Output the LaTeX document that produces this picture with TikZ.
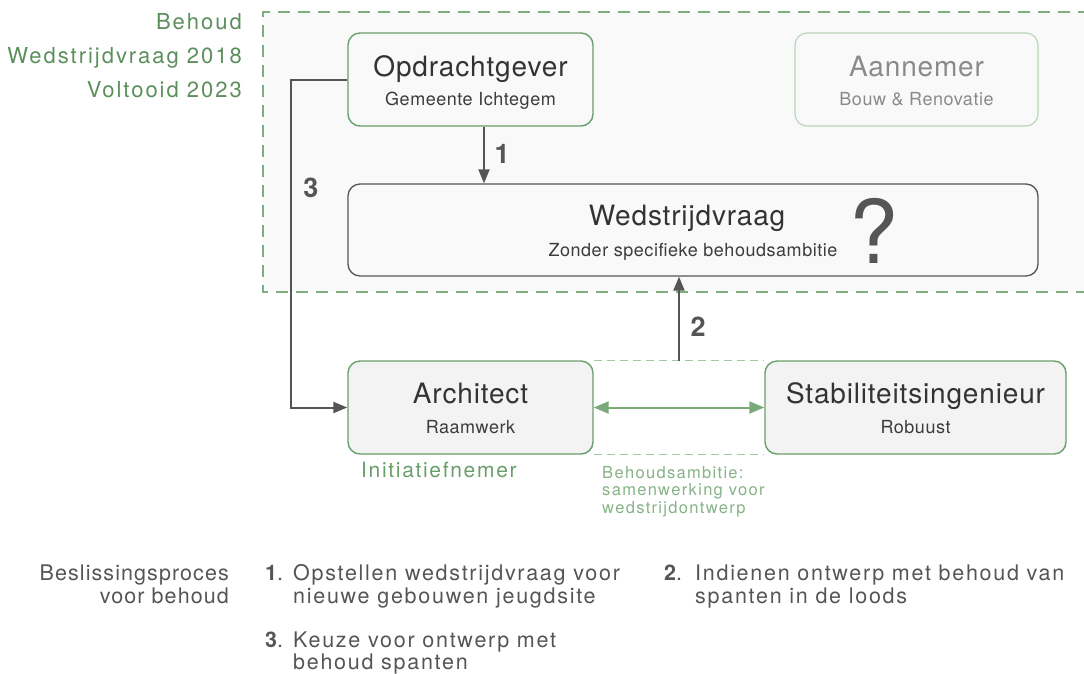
\documentclass[tikz,border=0pt]{standalone}
\usepackage{fontspec}
\setmainfont{TeX Gyre Heros}
\newfontfamily\hvA[LetterSpace=3]{TeX Gyre Heros}
\newfontfamily\hvL[LetterSpace=5]{TeX Gyre Heros}
\newfontfamily\hvB[LetterSpace=8]{TeX Gyre Heros}
\newfontfamily\hvC[LetterSpace=9]{TeX Gyre Heros}
\usetikzlibrary{arrows.meta}
\definecolor{panelbg}{HTML}{F9F9F9}
\definecolor{panelline}{HTML}{7FAE7F}
\definecolor{boxgreen}{HTML}{6A9E6A}
\definecolor{palegreen}{HTML}{B7D7B7}
\definecolor{lightgreen}{HTML}{A3C8A3}
\definecolor{arrowgreen}{HTML}{7AA97A}
\definecolor{txtgreen}{HTML}{5B8F5B}
\definecolor{notegreen}{HTML}{86B286}
\definecolor{darkline}{HTML}{555555}
\definecolor{titletxt}{HTML}{333333}
\definecolor{subtxt}{HTML}{3C3C3C}
\definecolor{greytxt}{HTML}{8A8A8A}
\definecolor{actorfill}{HTML}{F3F3F3}
\begin{document}
\begin{tikzpicture}[x=1pt,y=-1pt,
  gbox/.style={draw=boxgreen, line width=1.4pt, rounded corners=12pt, fill=panelbg, inner sep=0pt},
  abox/.style={gbox, fill=actorfill},
  pbox/.style={draw=palegreen, line width=1.2pt, rounded corners=12pt, fill=panelbg, inner sep=0pt},
  qbox/.style={draw=darkline, line width=1.3pt, rounded corners=12pt, fill=panelbg, inner sep=0pt},
  ttl/.style={inner sep=0pt, anchor=base, text=titletxt, font=\hvA\fontsize{28}{32}\selectfont},
  sub/.style={inner sep=0pt, anchor=base, text=subtxt, font=\hvA\fontsize{18}{22}\selectfont},
  grn/.style={inner sep=0pt, text=txtgreen, font=\hvC\fontsize{22}{24}\selectfont},
  note/.style={inner sep=0pt, anchor=base west, text=notegreen, font=\hvB\fontsize{16.5}{18}\selectfont},
  num/.style={inner sep=0pt, anchor=base, text=darkline, font=\bfseries\fontsize{27}{29}\selectfont},
  list/.style={inner sep=0pt, text=darkline, font=\hvB\fontsize{21.5}{23}\selectfont},
  legtxt/.style={list, font=\hvL\fontsize{21.5}{23}\selectfont},
  darr/.style={draw=darkline, line width=2pt, -{Triangle[length=14pt,width=11pt]}},
  garr/.style={draw=arrowgreen, line width=2pt, {Triangle[length=15pt,width=12pt]}-{Triangle[length=15pt,width=12pt]}},
  pdash/.style={draw=panelline, line width=1.5pt, dash pattern=on 12pt off 8pt},
  ldash/.style={draw=lightgreen, line width=1pt, dash pattern=on 8pt off 5pt}
]
\useasboundingbox (0,0) rectangle (1084,673);

% project phase panel
\fill[panelbg] (263,12) rectangle (1090,292);
\draw[pdash] (1090,12) -- (263,12) -- (263,292) -- (1090,292);

% project dates
\node[grn, anchor=base east] (dat1) at (242,29) {Behoud};
\node[grn, anchor=base east] (dat2) at (242,63) {Wedstrijdvraag 2018};
\node[grn, anchor=base east] (dat3) at (242,97) {Voltooid 2023};

% actors
\node[gbox, minimum width=245pt, minimum height=93pt] (opd) at (470.5,79.5) {};
\node[ttl] (opdT) at (470.5,76) {Opdrachtgever};
\node[sub] (opdS) at (470.5,105.5) {Gemeente Ichtegem};

\node[pbox, minimum width=243pt, minimum height=93pt] (ann) at (916.5,79.5) {};
\node[ttl, text=greytxt] (annT) at (916.5,76) {Aannemer};
\node[sub, text=greytxt] (annS) at (916.5,105.5) {Bouw \& Renovatie};

\node[qbox, minimum width=690pt, minimum height=92pt] (wv) at (693,230) {};
\node[ttl] (wvT) at (687,225) {Wedstrijdvraag};
\node[sub] (wvS) at (693,256) {Zonder specifieke behoudsambitie};
\node[inner sep=0pt, anchor=base, text=darkline, font=\fontsize{88}{90}\selectfont] (wvQ) at (874,263) {?};

\node[abox, minimum width=245pt, minimum height=93pt] (arch) at (470.5,407.5) {};
\node[ttl] (archT) at (470.5,403) {Architect};
\node[sub] (archS) at (470.5,433) {Raamwerk};

\node[abox, minimum width=301pt, minimum height=93pt] (stab) at (915.5,407.5) {};
\node[ttl] (stabT) at (915.5,403) {Stabiliteitsingenieur};
\node[sub] (stabS) at (915.5,433) {Robuust};

% collaboration between architect and engineer
\draw[ldash] (arch.north east) -- (stab.north west);
\draw[ldash] (arch.south east) -- (stab.south west);
\draw[garr] (arch.east) -- (stab.west);

\node[grn, anchor=base west, text=boxgreen, font=\hvB\fontsize{21}{24}\selectfont] (init) at (361,477) {Initiatiefnemer};
\node[note] (amb1) at (602,478) {Behoudsambitie:};
\node[note] (amb2) at (602,495.5) {samenwerking voor};
\node[note] (amb3) at (602,513) {wedstrijdontwerp};

% decision steps
\draw[darr] ([xshift=13.5pt]opd.south) -- ([xshift=13.5pt]opd.south |- wv.north);
\node[num] (n1) at (502,163) {1};

\coordinate (c2) at (679,361);
\draw[darr] (c2) -- (c2 |- wv.south);
\node[num] (n2) at (698,336) {2};

\coordinate (c3) at (291,240);
\draw[darr] (opd.west) -| (c3) |- (arch.west);
\node[num] (n3) at (311,197) {3};

% legend
\node[legtxt, anchor=base east] (leg1) at (229,580) {Beslissingsproces};
\node[legtxt, anchor=base east] (leg2) at (229,603) {voor behoud};

\node[list, anchor=base west] (s1n) at (265,580) {\textbf{1}.};
\node[list, anchor=base west] (s1a) at (293,580) {Opstellen wedstrijdvraag voor};
\node[list, anchor=base west] (s1b) at (293,603) {nieuwe gebouwen jeugdsite};

\node[list, anchor=base west] (s2n) at (664,580) {\textbf{2}.};
\node[list, anchor=base west] (s2a) at (695,580) {Indienen ontwerp met behoud van};
\node[list, anchor=base west] (s2b) at (695,603) {spanten in de loods};

\node[list, anchor=base west] (s3n) at (265,647) {\textbf{3}.};
\node[list, anchor=base west] (s3a) at (293,647) {Keuze voor ontwerp met};
\node[list, anchor=base west] (s3b) at (293,669) {behoud spanten};
\end{tikzpicture}
\end{document}
